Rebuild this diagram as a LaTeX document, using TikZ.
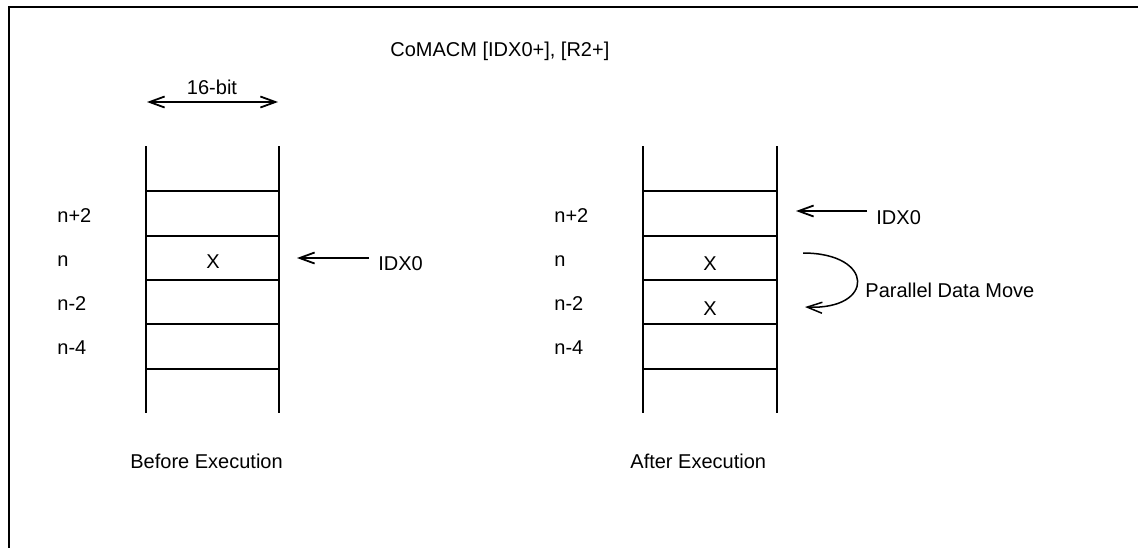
\documentclass[tikz,border=0pt]{standalone}
\usepackage{fontspec}
\setmainfont{Liberation Sans}
\usetikzlibrary{arrows.meta}
\tikzset{
  lbl/.style={inner sep=0pt, anchor=base west, font=\fontsize{10}{12}\selectfont},
  ptr/.style={-{Straight Barb[length=7.5pt,width=5.5pt]}, line width=0.9pt},
  dim/.style={{Straight Barb[length=7.5pt,width=5.5pt]}-{Straight Barb[length=7.5pt,width=5.5pt]}, line width=0.9pt},
  wall/.style={line width=1pt},
}
\begin{document}
\begin{tikzpicture}[x=0.5pt,y=-0.5pt]
\useasboundingbox (0,0) rectangle (1138,548);
\draw[wall] (1138,7) -- (9,7) -- (9,548);
%
\node[lbl](title) at (390,56) {CoMACM [IDX0+], [R2+]};
%
\node[lbl,anchor=base](width) at (212,94) {16-bit};
\coordinate(wl) at (147,102);
\coordinate(wr) at (278,102);
\draw[dim](wl) -- (wr);
%
% stack before
\draw[wall](146,146) -- (146,413);
\draw[wall](279,146) -- (279,413);
\draw[wall](146,191) -- (279,191);
\draw[wall](146,236) -- (279,236);
\draw[wall](146,280) -- (279,280);
\draw[wall](146,324) -- (279,324);
\draw[wall](146,369) -- (279,369);
%
\node[lbl](lnp2) at (57,222) {n+2};
\node[lbl](ln) at (57,266) {n};
\node[lbl](lnm2) at (57,310) {n-2};
\node[lbl](lnm4) at (57,354) {n-4};
%
\node[lbl,anchor=base](xa) at (213,268) {X};
%
\node[lbl](idxa) at (378,270) {IDX0};
\coordinate(ta) at (369,258);
\coordinate(pa) at (297,258);
\draw[ptr](ta) -- (pa);
%
\node[lbl](before) at (130,468) {Before Execution};
%
% stack after
\draw[wall](643,146) -- (643,413);
\draw[wall](777,146) -- (777,413);
\draw[wall](643,191) -- (777,191);
\draw[wall](643,236) -- (777,236);
\draw[wall](643,280) -- (777,280);
\draw[wall](643,324) -- (777,324);
\draw[wall](643,369) -- (777,369);
%
\node[lbl](rnp2) at (554,222) {n+2};
\node[lbl](rn) at (554,266) {n};
\node[lbl](rnm2) at (554,310) {n-2};
\node[lbl](rnm4) at (554,354) {n-4};
%
\node[lbl,anchor=base](xb) at (710,270) {X};
\node[lbl,anchor=base](xc) at (710,315) {X};
%
\node[lbl](idxb) at (876,224) {IDX0};
\coordinate(tb) at (867,211);
\coordinate(pb) at (796,211);
\draw[ptr](tb) -- (pb);
%
\node[lbl](pdm) at (865,297) {Parallel Data Move};
\coordinate(ms) at (803,253);
\coordinate(me) at (805,307);
\draw[ptr,line width=0.75pt](ms) .. controls (875,253) and (875,310) .. (me);
%
\node[lbl](after) at (630,468) {After Execution};
\end{tikzpicture}
\end{document}
